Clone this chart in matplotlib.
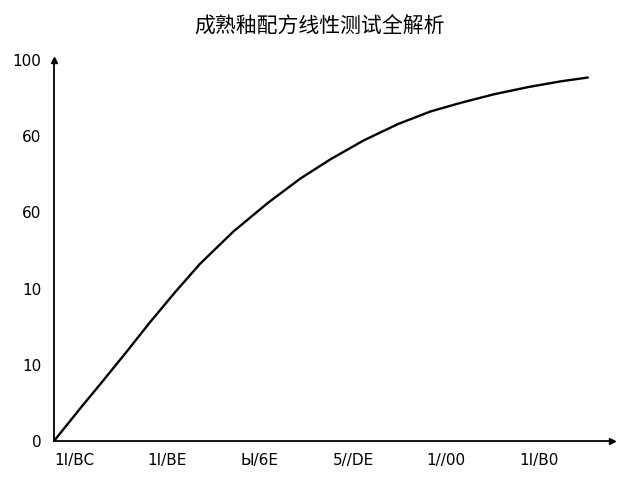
import matplotlib
matplotlib.use("Agg")
import matplotlib.pyplot as plt

# 曲线数据
curve_x = [0, 0.31, 0.50, 0.77, 1.03, 1.30, 1.57, 1.93, 2.30, 2.65,
           2.97, 3.33, 3.70, 4.05, 4.38, 4.73, 5.10, 5.45, 5.74]
curve_y = [0, 9.4, 15.0, 23.1, 31.1, 39.0, 46.5, 55.0, 62.5, 68.9,
           73.9, 78.9, 83.2, 86.5, 88.8, 91.0, 92.9, 94.4, 95.4]

x_ticks = [0, 1, 2, 3, 4, 5]
x_labels = ["1I/BC", "1I/BE", "Ы/6E", "5//DE", "1//00", "1I/B0"]
y_ticks = [0, 20, 40, 60, 80, 100]
y_labels = ["0", "10", "10", "60", "60", "100"]

title = "成熟釉配方线性测试全解析"

fig = plt.figure(figsize=(6.4, 4.8), dpi=100)
ax = fig.add_axes([54 / 640, 39 / 480, 558 / 640, 381 / 480])

ax.plot(curve_x, curve_y, color="black", linewidth=1.7,
        solid_capstyle="round", solid_joinstyle="round")

ax.set_xlim(0, 6)
ax.set_ylim(0, 100)

for s in ["top", "right"]:
    ax.spines[s].set_visible(False)
for s in ["left", "bottom"]:
    ax.spines[s].set_linewidth(1.3)

# 坐标轴箭头
ax.plot(1, 0, ">k", markersize=5, transform=ax.get_yaxis_transform(), clip_on=False)
ax.plot(0, 1, "^k", markersize=5, transform=ax.get_xaxis_transform(), clip_on=False)

ax.set_xticks(x_ticks)
ax.set_xticklabels(x_labels, ha="left", fontsize=11, family="DejaVu Sans")
ax.set_yticks(y_ticks)
ax.set_yticklabels(y_labels, fontsize=11, family="DejaVu Sans")
ax.tick_params(axis="both", length=0)
ax.tick_params(axis="x", pad=9)
ax.tick_params(axis="y", pad=9)

fig.text(0.5, 1 - 27 / 480, title, ha="center", va="center", fontsize=15,
         fontweight="medium", family=["Noto Sans CJK SC", "DejaVu Sans"])

fig.savefig("out.png", dpi=100, facecolor="white")
